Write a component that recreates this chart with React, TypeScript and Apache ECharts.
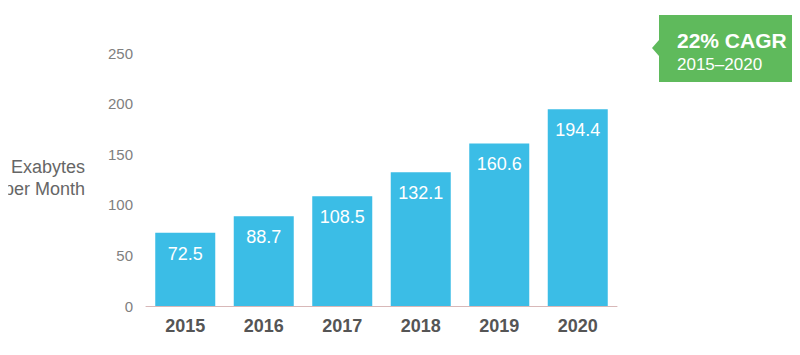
import React, { useEffect, useRef } from "react";
import * as echarts from "echarts";

const years = ["2015", "2016", "2017", "2018", "2019", "2020"];
const traffic = [72.5, 88.7, 108.5, 132.1, 160.6, 194.4];
const yTicks = [0, 50, 100, 150, 200, 250];

const FONT = "Liberation Sans, Arial, sans-serif";

export default function App() {
  const ref = useRef<HTMLDivElement>(null);
  useEffect(() => {
    if (!ref.current) return;
    const chart = echarts.init(ref.current, null, { renderer: "svg" });
    chart.setOption({
      animation: false,
      backgroundColor: "#ffffff",
      grid: { left: 146, right: 183, top: 53, bottom: 49 },
      xAxis: {
        type: "category",
        data: years,
        axisLine: { lineStyle: { color: "#d8b8b8", width: 1 } },
        axisTick: { show: false },
        axisLabel: {
          color: "#555555",
          fontSize: 18,
          fontWeight: "bold",
          fontFamily: FONT,
          margin: 11,
        },
      },
      yAxis: {
        type: "value",
        min: yTicks[0],
        max: yTicks[yTicks.length - 1],
        interval: 50,
        splitLine: { show: false },
        axisLine: { show: false },
        axisTick: { show: false },
        axisLabel: {
          color: "#808080",
          fontSize: 15,
          fontFamily: FONT,
          margin: 13,
        },
      },
      series: [
        {
          type: "bar",
          data: traffic,
          barWidth: 60,
          itemStyle: { color: "#3bbde6" },
          label: {
            show: true,
            position: "insideTop",
            distance: 12,
            color: "#ffffff",
            fontSize: 18,
            fontFamily: FONT,
            formatter: (p: any) => p.value.toFixed(1),
          },
        },
      ],
      graphic: [
        {
          type: "text",
          x: 85,
          y: 178,
          style: {
            text: "Exabytes\nper Month",
            fill: "#666666",
            fontSize: 18,
            lineHeight: 22,
            align: "right",
            verticalAlign: "middle",
            fontFamily: FONT,
          },
        },
        {
          type: "polygon",
          shape: { points: [[659, 40], [652, 48], [659, 56]] },
          style: { fill: "#5fba5c" },
        },
        {
          type: "rect",
          shape: { x: 659, y: 15, width: 139, height: 67 },
          style: { fill: "#5fba5c" },
        },
        {
          type: "text",
          x: 677,
          y: 40,
          style: {
            text: "22% CAGR",
            fill: "#ffffff",
            fontSize: 21,
            fontWeight: "bold",
            verticalAlign: "middle",
            fontFamily: FONT,
          },
        },
        {
          type: "text",
          x: 677,
          y: 64,
          style: {
            text: "2015–2020",
            fill: "#ffffff",
            fontSize: 17,
            verticalAlign: "middle",
            fontFamily: FONT,
          },
        },
      ],
    });
    return () => chart.dispose();
  }, []);
  return <div ref={ref} style={{ width: 800, height: 355, margin: -8 }} />;
}
